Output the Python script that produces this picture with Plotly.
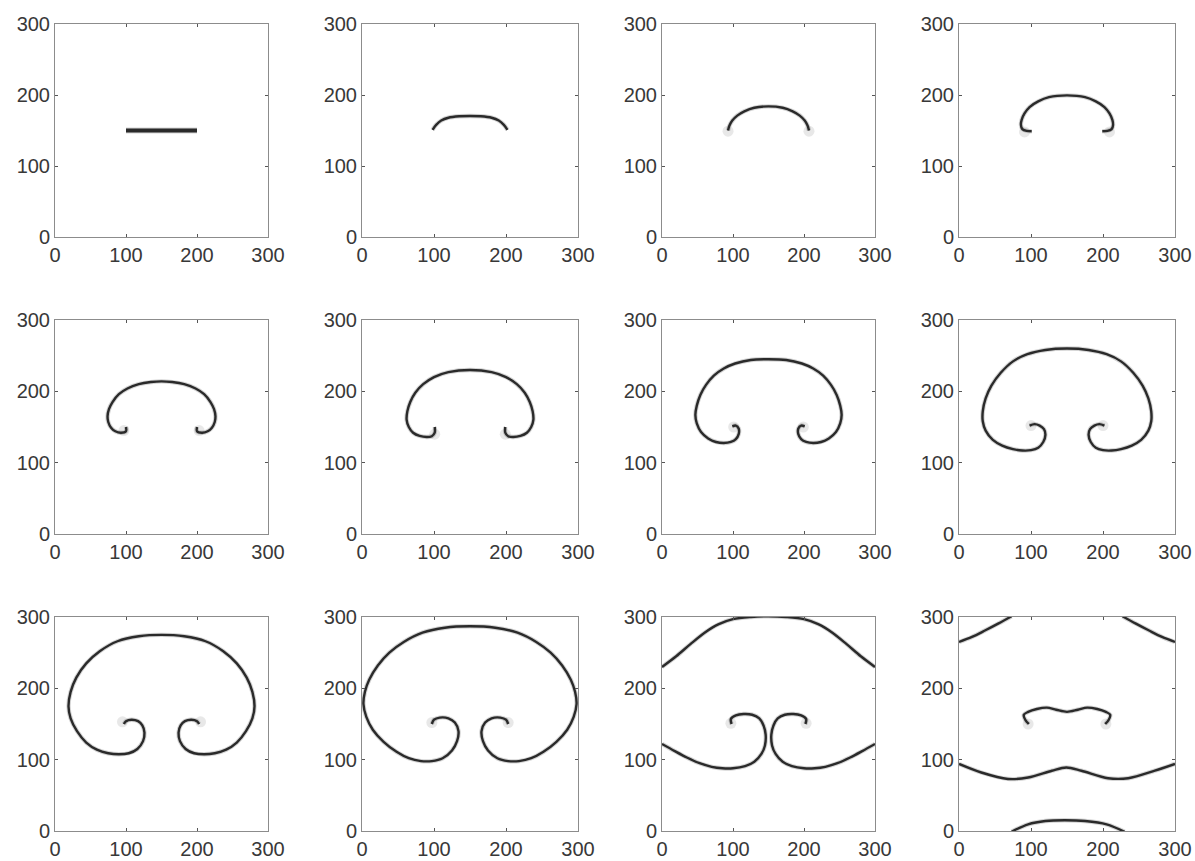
import plotly.graph_objects as go
from plotly.subplots import make_subplots

# Interface outlines at twelve successive stages (x, y in grid units).
# None separates disconnected pieces of the interface within one stage.
S1_X = [100, 200]
S1_Y = [150, 150]

S2_X = [98, 103, 110, 120, 135, 150, 165, 180, 190, 197, 202]
S2_Y = [151, 158, 164, 168, 170, 170.5, 170, 168, 164, 158, 151]

S3_X = [93, 95, 99, 106, 116, 130, 150, 170, 184, 194, 201, 205, 207]
S3_Y = [150, 157, 164, 171, 177, 182, 184, 182, 177, 171, 164, 157, 150]

S4_X = [101, 94, 88, 86, 87, 91, 98, 110, 125, 150, 175, 190, 202, 209, 213, 214, 212, 206, 199]
S4_Y = [149, 149.5, 152, 158, 165, 174, 183, 191, 197, 199.5, 197, 191, 183, 174, 165, 158, 152, 149.5, 149]

S5_X = [100, 100, 93, 85, 79, 75, 74, 76, 81, 90, 102, 118, 135, 150, 165, 182, 198, 210, 219,
        224, 226, 225, 221, 215, 207, 200, 200]
S5_Y = [150, 144, 142, 144, 149, 157, 165, 175, 185, 196, 204, 210, 213, 214, 213, 210, 204, 196, 185,
        175, 165, 157, 149, 144, 142, 144, 150]

S6_X = [101, 101, 97, 90, 80, 71, 65, 62, 63, 67, 74, 85, 100, 120, 150, 180, 200, 215, 226, 233,
        237, 238, 235, 229, 220, 210, 203, 199, 199]
S6_Y = [150, 142, 137, 136, 137.5, 142, 150, 160, 172, 185, 198, 210, 220, 227, 230, 227, 220, 210, 198, 185,
        172, 160, 150, 142, 137.5, 136, 137, 142, 150]

S7_X = [99, 104, 108, 108, 104, 97, 87, 76, 65, 55, 49, 47, 49, 54, 62, 73, 87, 103, 125, 150,
        175, 197, 213, 227, 238, 246, 251, 253, 251, 245, 235, 224, 213, 203, 196, 192, 192, 196, 201]
S7_Y = [151, 152, 148, 140, 133, 129, 127.5, 129, 134, 143, 155, 167, 180, 195, 209, 222, 232, 239, 244, 245,
        244, 239, 232, 222, 209, 195, 180, 167, 155, 143, 134, 129, 127.5, 129, 133, 140, 148, 152, 151]

S8_X = [98, 105, 112, 118, 120, 117, 110, 100, 88, 75, 60, 47, 37, 33, 33, 37, 45, 58, 75, 95, 120, 150,
        180, 205, 225, 242, 255, 263, 267, 267, 263, 253, 240, 225, 212, 200, 190, 183, 180, 182, 188, 195, 202]
S8_Y = [152, 154, 152, 147, 139, 129, 121, 117.5, 117, 119, 124, 132, 145, 158, 172, 190, 208, 226, 242, 252, 258, 260,
        258, 252, 242, 226, 208, 190, 172, 158, 145, 132, 124, 119, 117, 117.5, 121, 129, 139, 147, 152, 154, 152]

S9_X = [97, 100, 108, 117, 123, 126, 124, 116, 104, 90, 75, 59, 44, 31, 22, 19, 22, 30, 44, 63, 88, 118, 150,
        182, 212, 237, 256, 270, 278, 281, 278, 269, 256, 241, 225, 210, 196, 184, 176, 174, 177, 183, 192, 200, 203]
S9_Y = [150, 154, 156, 154, 148, 138, 126, 115, 109, 107.5, 109, 114, 124, 140, 158, 175, 195, 215, 235, 252, 266, 273, 275,
        273, 266, 252, 235, 215, 195, 175, 158, 140, 124, 114, 109, 107.5, 109, 115, 126, 138, 148, 154, 156, 154, 150]

S10_X = [97, 100, 108, 120, 129, 134, 132, 125, 112, 97, 82, 65, 48, 30, 15, 6, 2, 4, 10, 22, 38, 58, 84, 115, 150,
         185, 216, 242, 262, 278, 290, 296, 298, 294, 285, 270, 252, 235, 218, 203, 188, 175, 168, 166, 171, 180, 192, 200, 203]
S10_Y = [150, 156, 159, 158, 152, 140, 126, 113, 102, 98, 98, 102, 111, 125, 142, 160, 178, 195, 212, 232, 250, 265, 278, 285, 287,
         285, 278, 265, 250, 232, 212, 195, 178, 160, 142, 125, 111, 102, 98, 98, 102, 113, 126, 140, 152, 158, 159, 156, 150]

S11_X = [0, 20, 40, 60, 80, 100, 125, 150, 175, 200, 220, 240, 260, 280, 300, None,
         98, 97, 104, 115, 127, 137, 143, 146, 145, 140, 130, 117, 100, 85, 70, 53, 35, 18, 0, None,
         202, 203, 196, 185, 173, 163, 157, 154, 155, 160, 170, 183, 200, 215, 230, 247, 265, 282, 300]
S11_Y = [230, 245, 262, 278, 290, 297, 300, 301, 300, 297, 290, 278, 262, 245, 230, None,
         150, 157, 162, 164, 163, 158, 148, 135, 120, 108, 97, 91, 88, 88, 90, 95, 103, 112, 122, None,
         150, 157, 162, 164, 163, 158, 148, 135, 120, 108, 97, 91, 88, 88, 90, 95, 103, 112, 122]

S12_X = [0, 18, 36, 55, 73, None,
         227, 245, 264, 282, 300, None,
         0, 31, 68, 96, 129, 149, 170, 207, 235, 272, 300, None,
         73, 96, 120, 147, 175, 205, 230, None,
         97, 92, 90, 96, 108, 122, 135, 150, 165, 178, 192, 204, 210, 208, 203]
S12_Y = [265, 272, 281, 291, 301, None,
         301, 291, 281, 272, 265, None,
         94, 82, 73, 75, 84.5, 89, 84.5, 74, 74, 84.5, 94, None,
         -1, 9.4, 14, 15, 14, 9.4, -1, None,
         150, 156, 163, 167, 171, 173, 170, 167, 170, 173, 171, 167, 163, 156, 150]

# faint diffuse spots left at the rolled-up tips
T_X = [[], [], [93, 207], [91, 209], [97, 203], [101, 199], [101, 199], [100, 200],
       [95, 205], [97, 203], [97, 203], [96, 204]]
T_Y = [[], [], [149, 149], [148, 148], [145, 145], [140, 140], [150, 150], [152, 152],
       [153, 153], [152, 152], [151, 151], [150, 150]]

STAGES_X = [S1_X, S2_X, S3_X, S4_X, S5_X, S6_X, S7_X, S8_X, S9_X, S10_X, S11_X, S12_X]
STAGES_Y = [S1_Y, S2_Y, S3_Y, S4_Y, S5_Y, S6_Y, S7_Y, S8_Y, S9_Y, S10_Y, S11_Y, S12_Y]

TICK_VALS = [0, 100, 200, 300]
TICK_TEXT = ["0", "100", "200", "300"]

W, H = 1195, 861
# panel boxes in pixels
COLS = [(55, 268), (362, 578), (662, 875), (959, 1175)]
ROWS = [(24, 237), (320, 534), (617, 831)]

fig = make_subplots(rows=3, cols=4)

for i in range(12):
    r, c = divmod(i, 4)
    xs, ys = STAGES_X[i], STAGES_Y[i]
    width = 4.0 if i == 0 else 2.4
    if T_X[i]:
        fig.add_trace(go.Scatter(x=T_X[i], y=T_Y[i], mode="markers",
                                 marker=dict(color="rgba(130,130,130,0.18)", size=11, line=dict(width=0)),
                                 hoverinfo="skip", showlegend=False),
                      row=r + 1, col=c + 1)
    # soft halo under the curve
    fig.add_trace(go.Scatter(x=xs, y=ys, mode="lines",
                             line=dict(color="rgba(40,40,40,0.20)", width=width + 2.0,
                                       shape="spline", smoothing=0.9),
                             connectgaps=False, hoverinfo="skip", showlegend=False),
                  row=r + 1, col=c + 1)
    fig.add_trace(go.Scatter(x=xs, y=ys, mode="lines",
                             line=dict(color="#2a2a2a", width=width,
                                       shape="spline", smoothing=0.9),
                             connectgaps=False, showlegend=False),
                  row=r + 1, col=c + 1)

axis_style = dict(range=[0, 300], tickvals=TICK_VALS, ticktext=TICK_TEXT,
                  showgrid=False, zeroline=False, showline=True, linecolor="#8c8c8c",
                  linewidth=1, mirror="ticks", ticks="inside", ticklen=3,
                  tickcolor="#555555", tickwidth=1, automargin=False,
                  tickfont=dict(family="Liberation Sans, Arial, sans-serif", size=20, color="#383838"))

for i in range(12):
    r, c = divmod(i, 4)
    x0, x1 = COLS[c]
    y0, y1 = ROWS[r]
    suffix = "" if i == 0 else str(i + 1)
    fig.layout["xaxis" + suffix].update(domain=[x0 / W, x1 / W], **axis_style)
    fig.layout["yaxis" + suffix].update(domain=[1 - y1 / H, 1 - y0 / H], **axis_style)

fig.update_layout(width=W, height=H, margin=dict(l=0, r=0, t=0, b=0, autoexpand=False),
                  plot_bgcolor="white", paper_bgcolor="white", showlegend=False)

fig.write_html("out.html")
